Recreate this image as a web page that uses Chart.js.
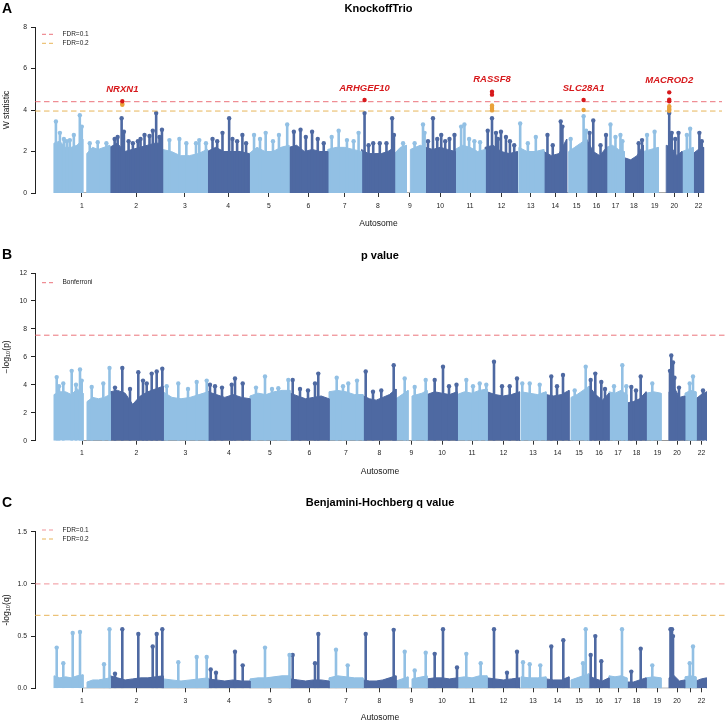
<!DOCTYPE html>
<html>
<head>
<meta charset="utf-8">
<script src="https://cdn.jsdelivr.net/npm/chart.js@4.4.1/dist/chart.umd.min.js"></script>
<style>
  html, body { margin: 0; padding: 0; background: #fff; }
  canvas { display: block; }
</style>
</head>
<body>
<canvas id="panelA" width="726" height="245"></canvas>
<canvas id="panelB" width="726" height="235"></canvas>
<canvas id="panelC" width="726" height="243"></canvas>
<script>
/* ---- chromosome layout (relative lengths as spaced on the axis) ---- */
const chromLabels = ['1','2','3','4','5','6','7','8','9','10','11','12','13','14','15','16','17','18','19','20','','22'];
const chromLen = [56, 53, 45, 42, 40, 39, 34, 33, 31, 30, 30, 33, 26, 23, 20, 20, 18, 19, 23, 16, 11, 11];

// stretches of each chromosome that carry markers: [chrom, from, to]
const blocks = [
  [1, 0, 29], [1, 33, 56], [2, 0, 53], [3, 0, 45], [4, 0, 42], [5, 0, 40], [6, 0, 39], [7, 0, 34],
  [8, 0, 33], [9, 0, 12], [9, 16, 31], [10, 0, 30], [11, 0, 30], [12, 0, 32.5], [13, 1, 26],
  [14, 0, 23], [15, 2, 20], [16, 0, 20], [17, 0, 18], [18, 0, 19], [19, 0, 15], [20, 0, 15.7],
  [21, 0, 11], [22, 0, 10.5]
];

/* ---- A: KnockoffTrio W statistic ---- */
const envA = [
  [2.4, 2.5, 2.2, 2.2, 2.3, 2.6], [1.9, 2.2, 2.1, 2.2, 2.3], [2.2, 2.4, 2.0, 2.1, 2.2, 2.3, 2.4, 2.4],
  [2.1, 2.0, 1.8, 1.8, 1.9, 2.1], [2.0, 2.2, 2.0, 2.0, 2.0, 1.9], [1.9, 2.2, 2.0, 2.0, 2.2, 2.3],
  [2.2, 2.3, 2.0, 2.1, 2.0, 2.0], [2.1, 2.2, 2.2, 2.1, 2.0], [2.1, 1.9, 1.9, 1.9, 2.0, 2.2],
  [1.9, 2.2, 2.3], [2.1, 2.2, 2.3, 2.2], [2.2, 2.1, 2.2, 2.1, 2.0], [2.1, 2.3, 2.2, 2.0, 2.1],
  [2.2, 2.3, 2.0, 1.9, 2.0], [2.2, 2.0, 2.0, 2.1], [2.0, 1.8, 1.9, 2.6], [2.0, 2.2, 2.4, 2.6],
  [2.6, 2.0, 1.8, 2.2], [2.2, 2.3, 2.1, 2.0], [1.7, 1.6, 1.8, 2.3], [2.0, 2.1, 2.2],
  [2.3, 2.2, 1.8, 2.0], [2.0, 2.1, 2.2], [1.9, 2.1, 2.2]
];
// [chrom, position, W]
const peaksA = [
  [1,2,3.45],[1,6,2.9],[1,10,2.6],[1,13,2.5],[1,16,2.55],[1,20,2.8],[1,26,3.75],[1,28,3.2],[1,36,2.4],[1,44,2.45],[1,52.7,2.4],
  [2,5,2.6],[2,8,2.7],[2,12,3.6],[2,14.3,2.95],[2,19,2.5],[2,23.3,2.4],[2,28.3,2.5],[2,31,2.6],[2,35,2.8],[2,40,2.75],
  [2,43.3,3.0],[2,46.7,3.85],[2,50,2.7],[2,52.5,3.05],
  [3,7,2.55],[3,17,2.6],[3,24,2.4],[3,33.7,2.4],[3,37,2.55],[3,43.7,2.4],
  [4,5.3,2.6],[4,10,2.5],[4,15.3,2.9],[4,22,3.6],[4,25.3,2.6],[4,30,2.5],[4,35.3,2.8],[4,39,2.4],
  [5,5,2.8],[5,11,2.6],[5,16.7,2.9],[5,24,2.5],[5,30,2.8],[5,38.3,3.3],
  [6,5,2.95],[6,11.7,3.05],[6,17,2.7],[6,23.3,2.95],[6,29,2.6],[6,35,2.4],
  [7,4,2.7],[7,11,3.0],[7,19.3,2.55],[7,26,2.5],[7,31,2.9],
  [8,3,3.85],[8,7,2.3],[8,11.7,2.4],[8,18.3,2.4],[8,25,2.4],[8,30.7,3.6],[8,32.5,2.8],
  [9,8.7,2.4],[9,20.3,2.4],[9,28.7,3.3],[9,30.3,2.9],
  [10,2.7,2.5],[10,7.7,3.6],[10,12,2.6],[10,16,2.8],[10,20,2.5],[10,24.3,2.6],[10,29.3,2.8],
  [11,6,3.2],[11,9.3,3.3],[11,14,2.6],[11,19.3,2.5],[11,25,2.45],
  [12,2.7,3.0],[12,7,3.6],[12,11,2.9],[12,13,2.6],[12,16,2.95],[12,21,2.7],[12,25,2.5],[12,29.3,2.3],
  [13,2.3,3.35],[13,10,2.4],[13,18,2.7],
  [14,3.7,2.8],[14,9,2.3],[14,17,3.45],[14,18.7,3.2],
  [15,4,2.6],[15,17,3.7],[15,19.5,3.0],
  [16,3,2.9],[16,6.7,3.5],[16,14,2.3],[16,19.5,2.8],
  [17,4,3.3],[17,9,2.7],[17,14,2.8],[17,16,2.5],
  [18,14.3,2.4],[18,17.7,2.55],
  [19,3.7,2.8],[19,11.3,2.95],
  [20,3,3.85],[20,5.5,2.9],[20,9,2.6],[20,12.3,2.9],
  [21,4.7,2.8],[21,8,3.1],
  [22,6.3,2.9],[22,8.7,2.5]
];
// markers passing the FDR thresholds: [chrom, position, W]
const sigA = [
  [2,12.7,4.42],[2,12.7,4.30],[2,12.7,4.25],
  [8,3,4.48],
  [12,7,4.88],[12,7,4.74],[12,7,4.22],[12,7,4.14],[12,7,4.06],[12,7,3.98],
  [15,17,4.48],[15,17,4.0],
  [20,3,4.85],[20,3,4.5],[20,3,4.42],[20,3,4.18],[20,3,4.1],[20,3,4.02],[20,3,3.96]
];
const genesA = [['NRXN1',2,12.7],['ARHGEF10',8,3],['RASSF8',12,7],['SLC28A1',15,17],['MACROD2',20,3]];
const fdrA = [4.40, 3.95];

/* ---- B: p value ---- */
const envB = [
  [3.3, 3.5, 3.5, 3.3, 3.7, 3.4], [2.8, 3.1, 3.0, 3.1, 3.3], [3.5, 3.6, 3.4, 2.6, 3.2, 3.5, 3.7, 3.9],
  [3.5, 3.1, 3.0, 3.1, 3.3, 3.5], [3.5, 3.3, 3.1, 3.3, 3.1, 3.0], [3.2, 3.4, 3.3, 3.5, 3.6, 3.6],
  [3.4, 3.2, 3.0, 3.1, 3.2, 3.0], [3.5, 3.6, 3.5, 3.3, 3.3], [3.2, 3.0, 2.9, 3.1, 3.3, 3.7],
  [3.0, 3.3, 3.6], [3.2, 3.3, 3.4, 3.6], [3.3, 3.5, 3.4, 3.3, 3.5], [3.3, 3.5, 3.4, 3.6, 3.7],
  [3.5, 3.3, 3.2, 3.3, 3.5], [3.5, 3.4, 3.3, 3.5], [3.3, 3.2, 3.3, 3.6], [3.1, 3.3, 3.6, 3.9],
  [3.9, 3.3, 2.9, 3.4], [3.5, 3.4, 3.6, 3.3], [2.7, 2.8, 3.0, 3.5], [3.4, 3.5, 3.4],
  [3.5, 3.8, 3.1, 3.2], [3.4, 3.6, 3.5], [3.0, 3.3, 3.5]
];
const peaksB = [
  [1,2.7,4.55],[1,5,3.9],[1,9.3,4.1],[1,17.7,5.0],[1,22,4.0],[1,26,5.1],[1,27.7,4.3],[1,37.7,3.85],[1,49.3,4.1],[1,55.5,5.2],
  [2,5,3.8],[2,12.3,5.2],[2,20,3.7],[2,28.3,4.9],[2,33,4.3],[2,36.7,4.1],[2,41.7,4.8],[2,46.7,4.95],[2,52.3,5.15],
  [3,3.7,3.9],[3,15.3,4.1],[3,25,3.7],[3,33.7,4.2],[3,43.7,4.3],
  [4,2,4.0],[4,7,3.9],[4,14,3.8],[4,23.7,4.0],[4,27,4.45],[4,34.7,4.1],
  [5,6,3.8],[5,15,4.6],[5,22,3.7],[5,28.3,3.75],[5,38.3,4.35],
  [6,2.7,4.35],[6,10,3.7],[6,18,3.6],[6,25,4.1],[6,28.3,4.8],
  [7,7.7,4.5],[7,14,3.9],[7,19.3,4.1],[7,28,4.3],
  [8,2.7,4.95],[8,10,3.5],[8,18.3,3.6],[8,30.7,5.4],
  [9,8.7,4.45],[9,18.7,3.85],[9,29.7,4.35],
  [10,7.7,4.35],[10,16,5.3],[10,22,3.9],[10,29.5,4.0],
  [11,9.3,4.35],[11,16,3.9],[11,22.7,4.1],[11,29.3,4.0],
  [12,7,5.65],[12,15,3.9],[12,22.7,3.9],[12,30,4.45],
  [13,2.3,4.1],[13,9.7,4.1],[13,19.7,4.0],
  [14,5.3,4.6],[14,11,3.9],[14,17,4.7],
  [15,5.7,3.6],[15,16.7,5.3],
  [16,1.7,4.35],[16,6.3,4.8],[16,12.3,4.2],[16,16,3.7],
  [17,5,3.9],[17,13.3,5.4],[17,17.3,3.9],
  [18,4.3,3.85],[18,9,3.6],[18,13.7,4.6],
  [19,6.3,4.1],
  [20,1,5.0],[20,2.3,6.1],[20,4,5.6],[20,5.5,4.5],[20,10,3.8],
  [21,4.7,4.1],[21,8,4.6],
  [22,7,3.6]
];
const bonfB = 7.55;

/* ---- C: Benjamini-Hochberg q value ---- */
const envC = [
  [0.12, 0.10, 0.11, 0.10, 0.12, 0.13], [0.06, 0.08, 0.08, 0.09, 0.10], [0.12, 0.10, 0.08, 0.09, 0.10, 0.10, 0.11, 0.12],
  [0.09, 0.08, 0.07, 0.08, 0.09, 0.10], [0.09, 0.08, 0.07, 0.08, 0.07, 0.07], [0.09, 0.10, 0.10, 0.11, 0.12, 0.12],
  [0.09, 0.08, 0.07, 0.08, 0.08, 0.07], [0.10, 0.12, 0.11, 0.10, 0.10], [0.08, 0.07, 0.07, 0.08, 0.10, 0.12],
  [0.07, 0.09, 0.11], [0.09, 0.10, 0.11, 0.12], [0.09, 0.10, 0.10, 0.09, 0.10], [0.10, 0.11, 0.10, 0.12, 0.12],
  [0.10, 0.09, 0.08, 0.09, 0.10], [0.11, 0.10, 0.10, 0.11], [0.09, 0.08, 0.08, 0.11], [0.08, 0.10, 0.12, 0.14],
  [0.12, 0.09, 0.07, 0.10], [0.12, 0.11, 0.12, 0.10], [0.06, 0.06, 0.08, 0.10], [0.10, 0.11, 0.10],
  [0.10, 0.12, 0.07, 0.08], [0.11, 0.12, 0.11], [0.07, 0.09, 0.10]
];
const peaksC = [
  [1,2.7,0.39],[1,9.3,0.24],[1,18.7,0.53],[1,26,0.54],[1,50,0.23],[1,55.5,0.565],
  [2,5,0.14],[2,12.3,0.565],[2,28.3,0.52],[2,42.7,0.4],[2,46.7,0.52],[2,52.3,0.565],
  [3,15.3,0.25],[3,33.7,0.3],[3,43.7,0.3],
  [4,2.7,0.18],[4,8,0.15],[4,27,0.35],[4,34.7,0.22],
  [5,15,0.39],[5,39.5,0.32],
  [6,2.7,0.32],[6,25,0.24],[6,28.3,0.52],
  [7,7,0.37],[7,18.7,0.22],
  [8,2.7,0.52],[8,30.7,0.56],
  [9,8.7,0.35],[9,18.7,0.17],[9,29.7,0.34],
  [10,7.7,0.33],[10,16,0.565],[10,30,0.2],
  [11,9.3,0.33],[11,23.7,0.24],
  [12,7,0.565],[12,20,0.15],[12,30,0.35],
  [13,3,0.25],[13,9.7,0.23],[13,20.3,0.22],
  [14,5.3,0.4],[14,17.3,0.46],
  [15,14,0.24],[15,16.7,0.565],
  [16,1.7,0.32],[16,6.3,0.5],[16,12.3,0.26],
  [17,13,0.565],
  [18,4.3,0.16],[18,13.7,0.38],
  [19,6.3,0.22],
  [20,1.5,0.565],[20,3,0.565],[20,4,0.5],
  [21,4.7,0.24],[21,8,0.4]
];
const fdrC = [1.0, 0.699];

/* ---- helpers ---- */
const LIGHT = '#92c0e4', DARK = '#4e69a2';
const RED = '#d7191c', ORANGE = '#e9a23b';
const LINE_RED = 'rgba(232,90,100,0.85)', LINE_ORANGE = 'rgba(228,168,60,0.85)';
const FONT = '"Liberation Sans", Arial, Helvetica, sans-serif';

const chromStart = chromLen.map((_, i) => chromLen.slice(0, i).reduce((a, b) => a + b, 0));
const mids = chromLen.map((l, i) => chromStart[i] + l / 2);
const total = chromStart[21] + chromLen[21];
const X_MIN = -19, X_MAX = total + 18;
const pos = (c, off) => chromStart[c - 1] + off;
const col = c => c % 2 ? LIGHT : DARK;

function envelopeSets(env) {
  return blocks.map(([c, from, to], i) => {
    const h = env[i];
    const pts = [{ x: pos(c, from), y: 0 }];
    h.forEach((v, k) => pts.push({ x: pos(c, from + (to - from) * k / (h.length - 1)), y: v }));
    pts.push({ x: pos(c, to), y: 0 });
    return { type: 'line', data: pts, borderColor: col(c), backgroundColor: col(c), borderWidth: 1,
      pointRadius: 0, fill: 'origin', order: 5 };
  });
}

function spikeSets(peaks) {
  return [1, 0].map(parity => {
    const pts = [];
    peaks.filter(p => p[0] % 2 === parity).forEach(([c, off, v]) => {
      const x = pos(c, off);
      pts.push({ x, y: 0 }, { x, y: v, top: true }, { x, y: null });
    });
    const color = parity ? LIGHT : DARK;
    return { type: 'line', data: pts, borderColor: color, backgroundColor: color, borderWidth: 2.6,
      spanGaps: false, fill: false, pointBorderWidth: 0, pointBackgroundColor: color,
      pointRadius: ctx => (ctx.raw && ctx.raw.top ? 2.2 : 0), order: 4 };
  });
}

function hline(v, color) {
  return { type: 'line', data: [{ x: X_MIN, y: v }, { x: X_MAX, y: v }], borderColor: color,
    borderWidth: 1, borderDash: [5.5, 3.5], pointRadius: 0, fill: false, order: 3 };
}

function axisLine() {
  return { type: 'line', data: [{ x: mids[0], y: 0 }, { x: mids[21], y: 0 }], borderColor: '#555',
    borderWidth: 1, pointRadius: 0, fill: false, order: 6 };
}

function annotations(o) {
  return {
    id: 'annot',
    afterDraw(chart) {
      const { ctx, chartArea: a, scales: { x, y } } = chart;
      ctx.save();
      ctx.fillStyle = '#000';
      ctx.textBaseline = 'middle';
      ctx.textAlign = 'left';
      ctx.font = 'bold 14px ' + FONT;
      ctx.fillText(o.letter, 2, o.letterY);
      ctx.textAlign = 'center';
      ctx.font = 'bold 11px ' + FONT;
      ctx.fillText(o.title, (a.left + a.right) / 2, o.titleY);
      // legend
      ctx.textAlign = 'left';
      ctx.font = '6.5px ' + FONT;
      o.legend.forEach(([label, color, ly]) => {
        ctx.strokeStyle = color;
        ctx.lineWidth = 1;
        ctx.setLineDash([4, 3]);
        ctx.beginPath();
        ctx.moveTo(42, ly);
        ctx.lineTo(56, ly);
        ctx.stroke();
        ctx.fillStyle = '#222';
        ctx.fillText(label, 62.5, ly);
      });
      ctx.setLineDash([]);
      // gene names above the top marker of each hit
      if (o.genes) {
        ctx.textAlign = 'center';
        ctx.fillStyle = RED;
        ctx.font = 'italic bold 9.5px ' + FONT;
        o.genes.forEach(([name, c, off]) => {
          const top = Math.max(...o.sig.filter(s => s[0] === c && s[1] === off).map(s => s[2]));
          ctx.fillText(name, x.getPixelForValue(pos(c, off)), y.getPixelForValue(top) - 12);
        });
      }
      ctx.restore();
    }
  };
}

function makeChart(id, cfg) {
  new Chart(document.getElementById(id), {
    type: 'line',
    data: { datasets: cfg.datasets },
    options: {
      responsive: false,
      animation: false,
      events: [],
      layout: { padding: { top: cfg.padTop, right: 1, bottom: 0, left: 0 } },
      plugins: { legend: { display: false }, tooltip: { enabled: false } },
      scales: {
        x: {
          type: 'linear', min: X_MIN, max: X_MAX,
          border: { display: false },
          grid: { drawOnChartArea: false, drawTicks: true, tickLength: 4, color: '#333' },
          afterBuildTicks: s => { s.ticks = mids.map(v => ({ value: v })); },
          afterFit: s => { s.height = cfg.xHeight; },
          ticks: { autoSkip: false, maxRotation: 0, padding: cfg.tickPad, color: '#222',
            font: { family: FONT, size: 6.8 }, callback: (v, i) => chromLabels[i] },
          title: { display: true, text: 'Autosome', color: '#111', font: { family: FONT, size: 8.5 },
            padding: { top: 0, bottom: cfg.titlePad } }
        },
        y: {
          min: 0, max: cfg.yMax,
          afterFit: s => { s.width = 35; },
          border: { display: true, color: '#222', width: 1 },
          grid: { drawOnChartArea: false, tickLength: 4, color: '#222' },
          ticks: { stepSize: cfg.yStep, padding: 4, color: '#222', font: { family: FONT, size: 6.8 },
            callback: cfg.yFmt },
          title: { display: true, text: cfg.yTitle, color: '#111', font: { family: FONT, size: 8.5 },
            padding: { top: 2, bottom: 0 } }
        }
      }
    },
    plugins: [annotations(cfg.annot)]
  });
}

/* ---- panel A ---- */
// draw lower markers first so the red hits sit on top
const sigSorted = sigA.slice().sort((p, q) => p[2] - q[2]);
makeChart('panelA', {
  padTop: 27, xHeight: 52, tickPad: 5.5, titlePad: 16, yMax: 8, yStep: 2, yTitle: 'W statistic',
  yFmt: v => v,
  datasets: [
    { type: 'scatter', data: sigSorted.map(([c, off, v]) => ({ x: pos(c, off), y: v })),
      pointRadius: 2.2, pointBorderWidth: 0,
      pointBackgroundColor: sigSorted.map(s => (s[2] >= fdrA[0] ? RED : ORANGE)), order: 1 },
    ...spikeSets(peaksA),
    hline(fdrA[0], LINE_RED), hline(fdrA[1], LINE_ORANGE),
    ...envelopeSets(envA),
    axisLine()
  ],
  annot: { letter: 'A', letterY: 9, title: 'KnockoffTrio', titleY: 9,
    legend: [['FDR=0.1', LINE_RED, 34.3], ['FDR=0.2', LINE_ORANGE, 43.3]],
    genes: genesA, sig: sigA }
});

/* ---- panel B ---- */
makeChart('panelB', {
  padTop: 28, xHeight: 39.3, tickPad: 4, titlePad: 3.2, yMax: 12, yStep: 2, yTitle: '\u2212log\u2081\u2080(p)',
  yFmt: v => v,
  datasets: [
    ...spikeSets(peaksB),
    hline(bonfB, LINE_RED),
    ...envelopeSets(envB),
    axisLine()
  ],
  annot: { letter: 'B', letterY: 10, title: 'p value', titleY: 11,
    legend: [['Bonferroni', LINE_RED, 37.7]] }
});

/* ---- panel C ---- */
makeChart('panelC', {
  padTop: 51.7, xHeight: 34.7, tickPad: 5, titlePad: 0, yMax: 1.5, yStep: 0.5, yTitle: '-log\u2081\u2080(q)',
  yFmt: v => v.toFixed(1),
  datasets: [
    ...spikeSets(peaksC),
    hline(fdrC[0], 'rgba(236,120,128,0.8)'), hline(fdrC[1], LINE_ORANGE),
    ...envelopeSets(envC),
    axisLine()
  ],
  annot: { letter: 'C', letterY: 23, title: 'Benjamini-Hochberg q value', titleY: 23,
    legend: [['FDR=0.1', 'rgba(236,120,128,0.8)', 50], ['FDR=0.2', LINE_ORANGE, 59]] }
});
</script>
</body>
</html>
